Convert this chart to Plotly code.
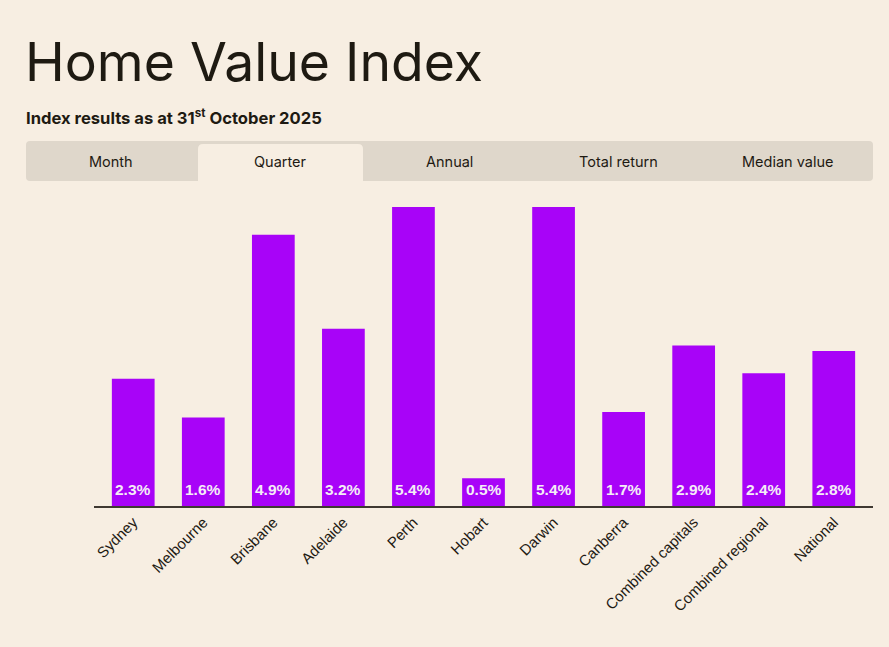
import plotly.graph_objects as go

categories = ["Sydney", "Melbourne", "Brisbane", "Adelaide", "Perth", "Hobart",
              "Darwin", "Canberra", "Combined capitals", "Combined regional", "National"]
quarter_change = [2.3, 1.6, 4.9, 3.2, 5.4, 0.5, 5.4, 1.7, 2.9, 2.4, 2.8]
tab_labels = ["Month", "Quarter", "Annual", "Total return", "Median value"]
active_tab = "Quarter"

W, H = 889, 647
L, R, T, B = 94, 16, 196, 141
PW = W - L - R
PH = H - T - B

BG = "#F7EEE2"
TAB_BG = "#DFD7CB"
INK = "#1E1A12"
PURPLE = "#A803F8"

def px(x):
    return (x - L) / PW

def py(y):
    return (H - B - y) / PH

fig = go.Figure()
fig.add_trace(go.Bar(
    x=categories, y=quarter_change,
    marker=dict(color=PURPLE, line=dict(width=0)),
    cliponaxis=False,
    hoverinfo="skip",
))

annotations = []
for c, v in zip(categories, quarter_change):
    annotations.append(dict(text=f"{v:.1f}%", x=c, y=0, xref="x", yref="y",
                            xanchor="center", yanchor="bottom", yshift=6, showarrow=False,
                            font=dict(family="Liberation Sans, Arial", size=15.5,
                                      color="#F4ECF6", weight="bold")))

shapes = []
x0, x1, y0, y1, r = 26, 873, 141, 181, 4
def rpath(x0, x1, y0, y1, r, bottom_round=True):
    rx = r / PW
    ry = r / PH
    X0, X1, Y0, Y1 = px(x0), px(x1), py(y0), py(y1)
    p = f"M {X0+rx},{Y0} L {X1-rx},{Y0} Q {X1},{Y0} {X1},{Y0-ry} "
    if bottom_round:
        p += f"L {X1},{Y1+ry} Q {X1},{Y1} {X1-rx},{Y1} L {X0+rx},{Y1} Q {X0},{Y1} {X0},{Y1+ry} "
    else:
        p += f"L {X1},{Y1} L {X0},{Y1} "
    p += f"L {X0},{Y0-ry} Q {X0},{Y0} {X0+rx},{Y0} Z"
    return p

shapes.append(dict(type="path", xref="paper", yref="paper", path=rpath(x0, x1, y0, y1, r),
                   fillcolor=TAB_BG, line=dict(width=0), layer="below"))
tab_w = (x1 - x0) / len(tab_labels)
for i, lab in enumerate(tab_labels):
    cx = x0 + tab_w * (i + 0.5)
    if lab == active_tab:
        shapes.append(dict(type="path", xref="paper", yref="paper",
                           path=rpath(198, 363, 144, 181, 5, bottom_round=False),
                           fillcolor=BG, line=dict(width=0), layer="below"))
    annotations.append(dict(text=lab, x=px(cx), y=py(161), xref="paper", yref="paper",
                            xanchor="center", yanchor="middle", showarrow=False,
                            font=dict(family="Inter, Arial", size=14.5, color=INK)))

annotations.append(dict(text="Home Value Index", x=px(23), y=py(62), xref="paper", yref="paper",
                        xanchor="left", yanchor="middle", showarrow=False,
                        font=dict(family="Inter, Arial", size=53.5, color=INK)))
annotations.append(dict(text="Index results as at 31<sup>st</sup> October 2025", x=px(24), y=py(117),
                        xref="paper", yref="paper", xanchor="left", yanchor="middle", showarrow=False,
                        font=dict(family="Inter, Arial", size=16.6, color=INK, weight="bold")))

fig.update_layout(
    width=W, height=H,
    margin=dict(l=L, r=R, t=T, b=B, autoexpand=False),
    paper_bgcolor=BG, plot_bgcolor=BG,
    bargap=0.39,
    showlegend=False,
    shapes=shapes,
    annotations=annotations,
    xaxis=dict(range=[-0.56, 10.56], tickangle=-45, showgrid=False, zeroline=False,
               showline=True, linecolor="#3F3932", linewidth=1.5, ticks="",
               tickfont=dict(family="Liberation Sans, Arial", size=15, color=INK), fixedrange=True),
    yaxis=dict(range=[0, 5.6], visible=False, showgrid=False, zeroline=False, fixedrange=True),
)

fig.write_html("out.html", config={"displayModeBar": False},
               post_script="document.body.style.margin='0';document.body.style.background='#F7EEE2';document.body.style.overflow='hidden';")
